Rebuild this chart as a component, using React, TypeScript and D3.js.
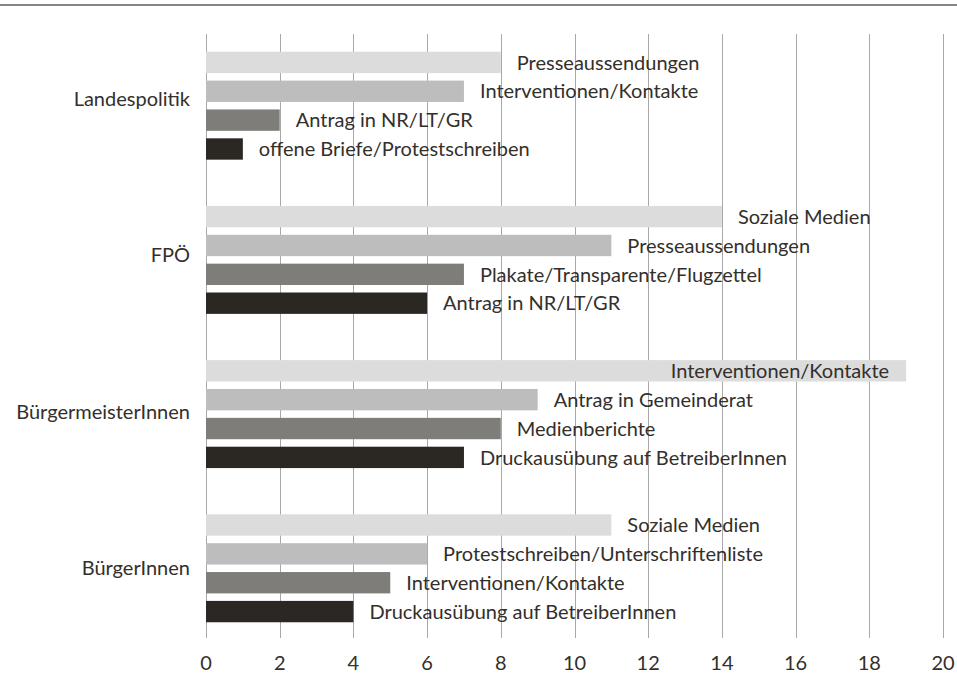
import { useEffect, useRef } from "react";
import * as d3 from "d3";

// categories (top to bottom)
const categories = ["Landespolitik", "FPÖ", "BürgermeisterInnen", "BürgerInnen"];

// top four measures per group, with counts
const landespolitikLabels = [
  "Presseaussendungen",
  "Interventionen/Kontakte",
  "Antrag in NR/LT/GR",
  "offene Briefe/Protestschreiben",
];
const landespolitikValues = [8, 7, 2, 1];

const fpoLabels = [
  "Soziale Medien",
  "Presseaussendungen",
  "Plakate/Transparente/Flugzettel",
  "Antrag in NR/LT/GR",
];
const fpoValues = [14, 11, 7, 6];

const buergermeisterLabels = [
  "Interventionen/Kontakte",
  "Antrag in Gemeinderat",
  "Medienberichte",
  "Druckausübung auf BetreiberInnen",
];
const buergermeisterValues = [19, 9, 8, 7];

const buergerLabels = [
  "Soziale Medien",
  "Protestschreiben/Unterschriftenliste",
  "Interventionen/Kontakte",
  "Druckausübung auf BetreiberInnen",
];
const buergerValues = [11, 6, 5, 4];

const xTicks = [0, 2, 4, 6, 8, 10, 12, 14, 16, 18, 20];

const rankColors = ["#dcdcdc", "#bdbdbd", "#7e7d79", "#2b2722"];

export default function App() {
  const svgRef = useRef<SVGSVGElement>(null);

  useEffect(() => {
    if (!svgRef.current) return;
    const svg = d3.select(svgRef.current);
    svg.selectAll("*").remove();

    const width = 957;
    const height = 687;
    const font = "Lato, sans-serif";
    const textColor = "#332f2b";
    const fontSize = 20;
    const capHalf = fontSize * 0.36;

    const groups = [
      { cat: categories[0], labels: landespolitikLabels, values: landespolitikValues },
      { cat: categories[1], labels: fpoLabels, values: fpoValues },
      { cat: categories[2], labels: buergermeisterLabels, values: buergermeisterValues },
      { cat: categories[3], labels: buergerLabels, values: buergerValues },
    ];

    const plotTop = 34;
    const plotBottom = 638;

    const x = d3.scaleLinear().domain([0, 20]).range([206, 943]);
    const y0 = d3
      .scaleBand<string>()
      .domain(categories)
      .range([plotTop, plotBottom + 2])
      .paddingInner(0.3)
      .paddingOuter(0.115);
    const y1 = d3
      .scaleBand<number>()
      .domain([0, 1, 2, 3])
      .range([0, y0.bandwidth()])
      .paddingInner(0.26);

    // category label positions
    const firstC = (y0(categories[0]) ?? 0) + y0.bandwidth() / 2;
    const lastC = (y0(categories[categories.length - 1]) ?? 0) + y0.bandwidth() / 2;
    const yLabel = d3.scalePoint<string>().domain(categories).range([firstC - 7, lastC]);

    // top rule
    svg
      .append("line")
      .attr("x1", 0)
      .attr("x2", width)
      .attr("y1", 5)
      .attr("y2", 5)
      .attr("stroke", "#5e5e5e")
      .attr("stroke-width", 1.6);

    // gridlines
    svg
      .append("g")
      .selectAll("line")
      .data(xTicks)
      .join("line")
      .attr("x1", (d) => Math.round(x(d)) + 0.5)
      .attr("x2", (d) => Math.round(x(d)) + 0.5)
      .attr("y1", plotTop)
      .attr("y2", plotBottom)
      .attr("stroke", "#a8a8a8")
      .attr("stroke-width", 1);

    // tick labels
    svg
      .append("g")
      .selectAll("text")
      .data(xTicks)
      .join("text")
      .attr("x", (d) => x(d))
      .attr("y", 670)
      .attr("text-anchor", "middle")
      .attr("font-family", font)
      .attr("font-size", fontSize)
      .attr("fill", textColor)
      .text((d) => String(d));

    // category labels
    svg
      .append("g")
      .selectAll("text")
      .data(categories)
      .join("text")
      .attr("x", 190)
      .attr("y", (d) => (yLabel(d) ?? 0) + capHalf)
      .attr("text-anchor", "end")
      .attr("font-family", font)
      .attr("font-size", fontSize)
      .attr("fill", textColor)
      .text((d) => d);

    // bars
    groups.forEach((grp) => {
      const g = svg.append("g").attr("transform", `translate(0,${y0(grp.cat)})`);
      g.selectAll("rect")
        .data(grp.values)
        .join("rect")
        .attr("x", x(0))
        .attr("y", (_, i) => y1(i) ?? 0)
        .attr("width", (d) => x(d) - x(0))
        .attr("height", y1.bandwidth())
        .attr("fill", (_, i) => rankColors[i]);

      g.selectAll("text")
        .data(grp.values)
        .join("text")
        .attr("y", (_, i) => (y1(i) ?? 0) + y1.bandwidth() / 2 + capHalf)
        .attr("font-family", font)
        .attr("font-size", fontSize)
        .attr("fill", textColor)
        .text((_, i) => grp.labels[i])
        .each(function (d) {
          const t = this as SVGTextElement;
          const w = t.getComputedTextLength();
          if (x(d) + 16 + w > width - 5) {
            t.setAttribute("x", String(x(d) - 17));
            t.setAttribute("text-anchor", "end");
          } else {
            t.setAttribute("x", String(x(d) + 16));
          }
        });
    });

    svg.attr("width", width).attr("height", height);
  }, []);

  return (
    <div style={{ position: "fixed", left: 0, top: 0, background: "#fff" }}>
      <svg ref={svgRef} width={957} height={687} style={{ display: "block" }}></svg>
    </div>
  );
}
